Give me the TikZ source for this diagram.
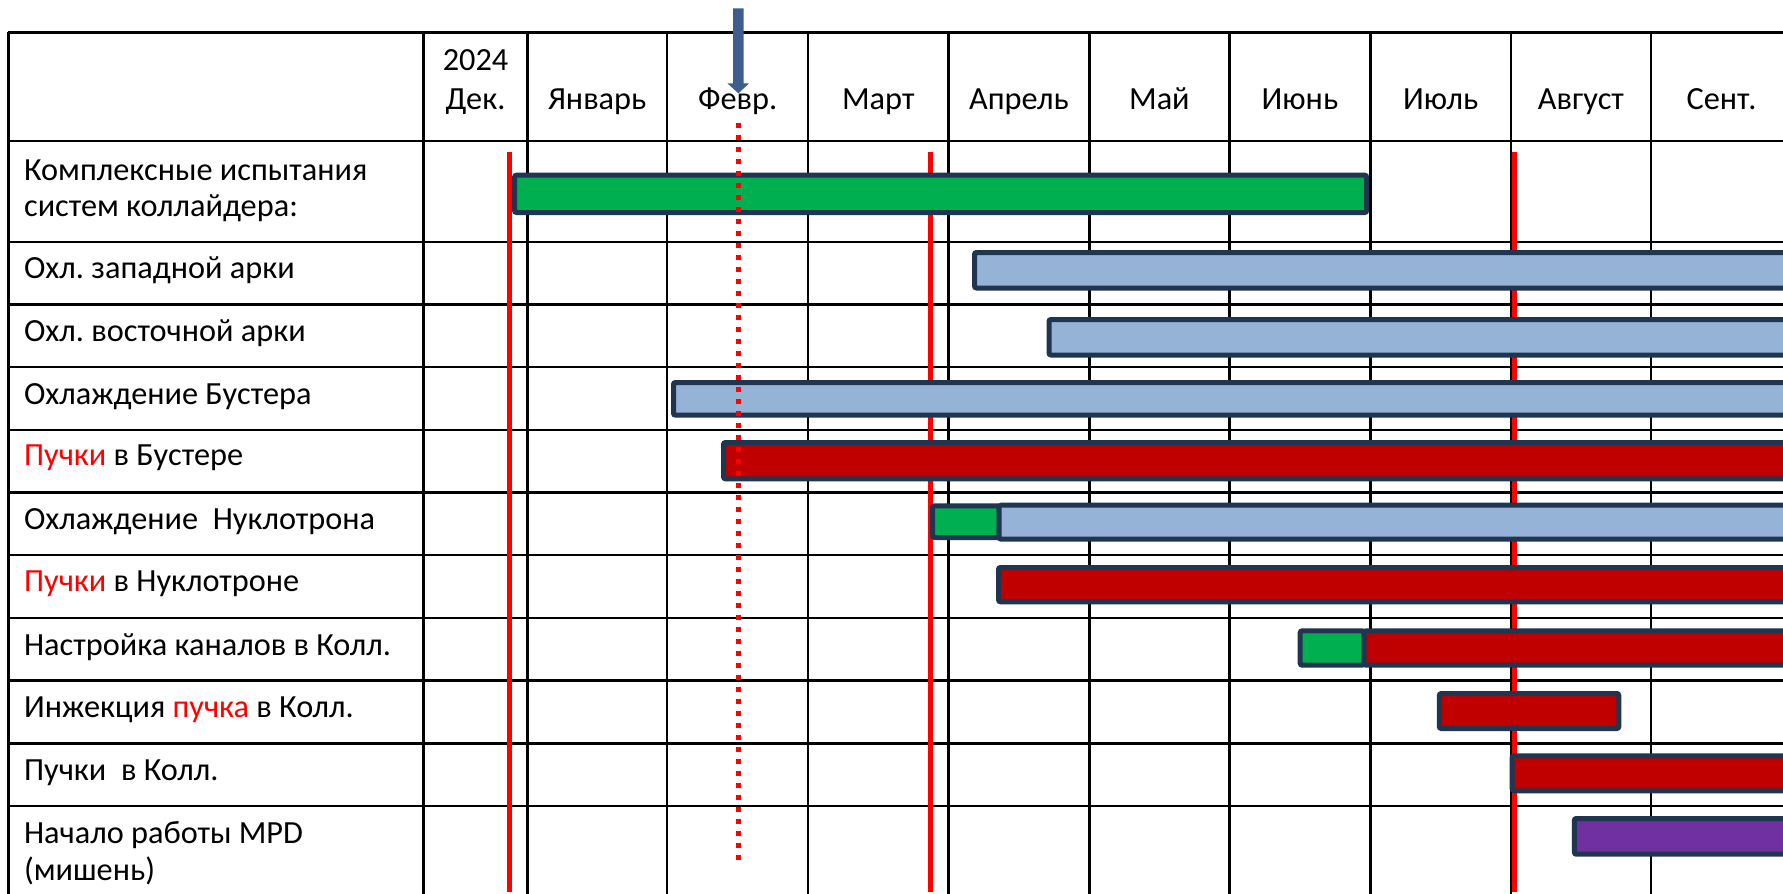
\documentclass[tikz,border=0pt]{standalone}
\usepackage{fontspec}
\setmainfont{Carlito}
\frenchspacing
\definecolor{gbar}{HTML}{00B050}
\definecolor{bbar}{HTML}{95B3D7}
\definecolor{rbar}{HTML}{C00000}
\definecolor{pbar}{HTML}{7030A0}
\definecolor{baredge}{HTML}{1F3550}
\definecolor{arrowblue}{HTML}{3E5E8C}
\definecolor{hot}{HTML}{FF0000}
\begin{document}
\begin{tikzpicture}[x=0.5pt,y=-0.5pt,
  grid/.style={black,line width=1.2pt},
  bar/.style={draw=baredge,line width=2.5pt,rounded corners=1pt},
  redline/.style={hot,line width=2.5pt},
  nowline/.style={hot,line width=2.5pt,dash pattern=on 2.5pt off 3.5pt},
  hdr/.style={anchor=base,inner sep=0pt,font=\fontsize{16.15}{19}\selectfont},
  lbl/.style={anchor=base west,inner sep=0pt,font=\fontsize{16.15}{19}\selectfont}]
\useasboundingbox (0,0) rectangle (1783,894);
\clip (0,0) rectangle (1783,894);
\fill[white] (0,0) rectangle (1783,894);
% grid
\foreach \x in {8.4,423.6,527.3,667,808.2,948.6,1089.4,1229.4,1370.3,1510.8,1651}
  \draw[grid] (\x,32.3) -- (\x,900);
\foreach \y in {32.3,141,241.7,304.4,367.1,429.8,492.5,555.2,617.9,680.6,743.3,806}
  \draw[grid] (8.4,\y) -- (1790,\y);
% red milestone lines
\draw[redline] (509.4,151.7) -- (509.4,892);
\draw[redline] (930.5,151.7) -- (930.5,892);
\draw[redline] (1514.6,151.7) -- (1514.6,892);
% bars
\draw[bar,fill=gbar] (514.5,175.2) rectangle (1366.7,212.5);
\draw[bar,fill=bbar] (974.5,252.5) rectangle (1800,288);
\draw[bar,fill=bbar] (1049,319.5) rectangle (1800,355);
\draw[bar,fill=bbar] (673.5,382.5) rectangle (1800,415.2);
\draw[bar,fill=rbar] (723.5,442.5) rectangle (1800,478.8);
\draw[bar,fill=gbar] (932.5,505.8) rectangle (999.2,537.5);
\draw[bar,fill=bbar] (999.2,505.2) rectangle (1800,539.2);
\draw[bar,fill=rbar] (998.5,567.5) rectangle (1800,601.8);
\draw[bar,fill=gbar] (1300.2,630.8) rectangle (1364.2,665.2);
\draw[bar,fill=rbar] (1364.2,630.8) rectangle (1800,665.2);
\draw[bar,fill=rbar] (1439.3,693.5) rectangle (1618.8,728.5);
\draw[bar,fill=rbar] (1512.2,755.8) rectangle (1800,790.8);
\draw[bar,fill=pbar] (1574.3,818.5) rectangle (1800,854.2);
% current date
\draw[nowline] (738.3,123.3) -- (738.3,867);
\fill[arrowblue] (733.2,8.3) -- (743.5,8.3) -- (743.5,83.3) -- (749.2,83.3)
  -- (738.35,93.3) -- (727.4,83.3) -- (733.2,83.3) -- cycle;
% header
\node[hdr] (y2024) at (475.5,70) {2024};
\node[hdr] (dec) at (475.5,109.3) {Дек.};
\node[hdr] (jan) at (597.2,109.3) {Январь};
\node[hdr] (feb) at (737.6,109.3) {Февр.};
\node[hdr] (mar) at (878.4,109.3) {Март};
\node[hdr] (apr) at (1019,109.3) {Апрель};
\node[hdr] (may) at (1159.4,109.3) {Май};
\node[hdr] (jun) at (1299.9,109.3) {Июнь};
\node[hdr] (jul) at (1440.6,109.3) {Июль};
\node[hdr] (aug) at (1580.9,109.3) {Август};
\node[hdr] (sep) at (1721.5,109.3) {Сент.};
% row labels
\node[lbl] (l1a) at (23.7,180) {Комплексные испытания};
\node[lbl] (l1b) at (23.7,216.7) {систем коллайдера:};
\node[lbl] (l2) at (23.7,278.3) {Охл. западной арки};
\node[lbl] (l3) at (23.7,341.7) {Охл. восточной арки};
\node[lbl] (l4) at (23.7,404.3) {Охлаждение Бустера};
\node[lbl] (l5) at (23.7,465.7) {{\color{hot}Пучки} в Бустере};
\node[lbl] (l6) at (23.7,529.3) {Охлаждение\ \ Нуклотрона};
\node[lbl] (l7) at (23.7,591.7) {{\color{hot}Пучки} в Нуклотроне};
\node[lbl] (l8) at (23.7,655) {Настройка каналов в Колл.};
\node[lbl] (l9) at (23.7,717.3) {Инжекция {\color{hot}пучка} в Колл.};
\node[lbl] (l10) at (23.7,780) {Пучки\ \ в Колл.};
\node[lbl] (l11a) at (23.7,843.3) {Начало работы MPD};
\node[lbl] (l11b) at (23.7,880) {(мишень)};
\end{tikzpicture}
\end{document}
